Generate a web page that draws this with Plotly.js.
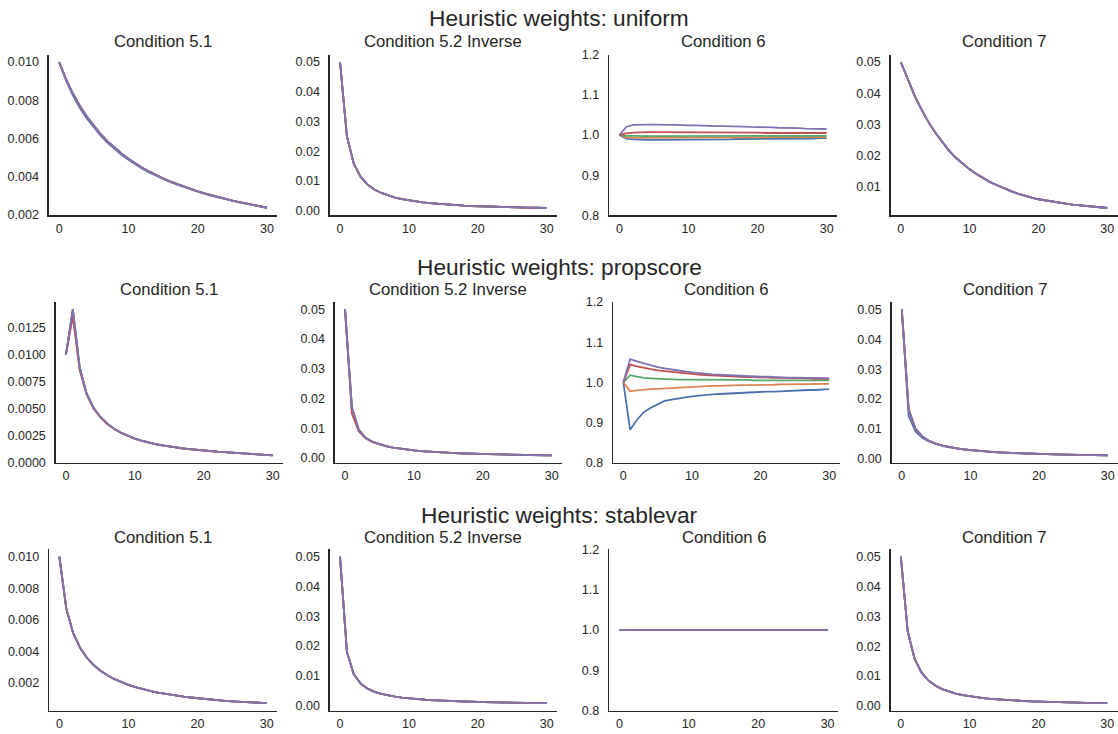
<!DOCTYPE html>
<html>
<head>
<meta charset="utf-8">
<script src="https://cdn.plot.ly/plotly-3.0.1.min.js"></script>
<style>html,body{margin:0;padding:0;background:#fff;}#chart{width:1118px;height:734px;}</style>
</head>
<body>
<div id="chart"></div>
<script>
// ---------- data ----------
const t = [0,1,2,3,4,5,6,7,8,9,10,11,12,13,14,15,16,17,18,19,20,21,22,23,24,25,26,27,28,29,30];
const seriesNames = ["series 1","series 2","series 3","series 4","series 5"];
const seriesColors = ["#4C72B0","#DD8452","#55A868","#C44E52","#8172B3"];
const rowTitles = ["Heuristic weights: uniform","Heuristic weights: propscore","Heuristic weights: stablevar"];
const colTitles = ["Condition 5.1","Condition 5.2 Inverse","Condition 6","Condition 7"];
const xTicks = [0,10,20,30];

// uniform
const uni_c51 = [0.01000,0.00910,0.00835,0.00770,0.00715,0.00666,0.00623,0.00585,0.00551,0.00521,0.00494,0.00469,0.00447,0.00427,0.00408,0.00391,0.00375,0.00361,0.00347,0.00335,0.00323,0.00312,0.00302,0.00292,0.00283,0.00275,0.00267,0.00260,0.00253,0.00245,0.00238];
const uni_c51_blue = [0.01000,0.00902,0.00824,0.00759,0.00704,0.00656,0.00614,0.00577,0.00544,0.00514,0.00488,0.00464,0.00442,0.00422,0.00404,0.00387,0.00372,0.00358,0.00345,0.00333,0.00321,0.00310,0.00300,0.00291,0.00282,0.00274,0.00266,0.00258,0.00251,0.00244,0.00236];
const uni_c52 = [0.05000,0.02500,0.01580,0.01140,0.00880,0.00715,0.00600,0.00512,0.00444,0.00390,0.00347,0.00311,0.00281,0.00256,0.00235,0.00216,0.00200,0.00186,0.00174,0.00163,0.00153,0.00145,0.00137,0.00130,0.00123,0.00117,0.00112,0.00107,0.00103,0.00099,0.00095];
const uni_c6_blue = [1.000,0.991,0.989,0.988,0.988,0.988,0.988,0.988,0.988,0.988,0.988,0.988,0.989,0.989,0.989,0.989,0.989,0.990,0.990,0.990,0.990,0.990,0.990,0.991,0.991,0.991,0.991,0.991,0.991,0.992,0.992];
const uni_c6_orange = [1.000,0.994,0.993,0.993,0.993,0.993,0.993,0.993,0.993,0.993,0.993,0.994,0.994,0.994,0.994,0.994,0.994,0.994,0.994,0.994,0.994,0.994,0.995,0.995,0.995,0.995,0.995,0.995,0.995,0.995,0.995];
const uni_c6_green = [1.000,0.998,0.998,0.997,0.997,0.997,0.997,0.997,0.997,0.997,0.997,0.997,0.997,0.997,0.997,0.997,0.998,0.998,0.998,0.998,0.998,0.998,0.998,0.998,0.998,0.998,0.998,0.998,0.998,0.998,0.998];
const uni_c6_red = [1.000,1.004,1.006,1.007,1.007,1.007,1.007,1.007,1.007,1.007,1.006,1.006,1.006,1.006,1.006,1.006,1.006,1.006,1.006,1.006,1.006,1.005,1.005,1.005,1.005,1.005,1.005,1.005,1.005,1.005,1.005];
const uni_c6_purple = [1.000,1.020,1.025,1.026,1.026,1.026,1.025,1.025,1.025,1.024,1.024,1.024,1.023,1.023,1.022,1.022,1.022,1.021,1.021,1.020,1.020,1.019,1.019,1.018,1.018,1.017,1.017,1.016,1.016,1.015,1.015];
const uni_c7 = [0.0500,0.0443,0.0392,0.0348,0.0308,0.0274,0.0243,0.0216,0.0193,0.0173,0.0156,0.0141,0.0127,0.0115,0.0105,0.0095,0.0086,0.0078,0.0071,0.0065,0.0060,0.0056,0.0052,0.0049,0.0046,0.0043,0.0041,0.0038,0.0036,0.0034,0.0032];

// propscore
const prop_c51 = [0.01000,0.01420,0.00880,0.00640,0.00508,0.00422,0.00360,0.00313,0.00276,0.00246,0.00222,0.00202,0.00185,0.00171,0.00159,0.00148,0.00139,0.00131,0.00124,0.00117,0.00111,0.00106,0.00101,0.00097,0.00093,0.00089,0.00086,0.00082,0.00078,0.00073,0.00067];
const prop_c51_low = [0.01000,0.01360,0.00860,0.00630,0.00502,0.00418,0.00357,0.00311,0.00274,0.00245,0.00221,0.00201,0.00184,0.00170,0.00158,0.00147,0.00138,0.00130,0.00123,0.00116,0.00110,0.00105,0.00100,0.00096,0.00092,0.00088,0.00085,0.00081,0.00077,0.00072,0.00066];
const prop_c52 = [0.05000,0.01700,0.00950,0.00680,0.00545,0.00460,0.00398,0.00350,0.00312,0.00281,0.00255,0.00233,0.00214,0.00198,0.00184,0.00172,0.00161,0.00152,0.00144,0.00136,0.00130,0.00124,0.00118,0.00113,0.00109,0.00105,0.00101,0.00097,0.00094,0.00091,0.00088];
const prop_c52_low = [0.05000,0.01500,0.00900,0.00660,0.00535,0.00453,0.00393,0.00346,0.00309,0.00279,0.00253,0.00231,0.00213,0.00197,0.00183,0.00171,0.00160,0.00151,0.00143,0.00135,0.00129,0.00123,0.00117,0.00112,0.00108,0.00104,0.00100,0.00096,0.00093,0.00090,0.00087];
const prop_c6_blue = [1.000,0.882,0.907,0.926,0.937,0.946,0.954,0.957,0.960,0.963,0.965,0.967,0.969,0.970,0.971,0.972,0.973,0.974,0.975,0.975,0.976,0.977,0.977,0.978,0.979,0.979,0.980,0.981,0.981,0.982,0.983];
const prop_c6_orange = [1.000,0.978,0.980,0.982,0.983,0.984,0.985,0.986,0.987,0.988,0.989,0.990,0.990,0.991,0.991,0.992,0.992,0.993,0.993,0.993,0.994,0.994,0.994,0.995,0.995,0.995,0.995,0.995,0.996,0.996,0.996];
const prop_c6_green = [1.000,1.018,1.014,1.011,1.010,1.009,1.008,1.008,1.007,1.007,1.007,1.007,1.006,1.006,1.006,1.006,1.006,1.006,1.006,1.005,1.005,1.005,1.005,1.005,1.005,1.005,1.005,1.005,1.005,1.005,1.005];
const prop_c6_red = [1.000,1.044,1.040,1.036,1.033,1.030,1.028,1.026,1.024,1.022,1.021,1.019,1.018,1.017,1.016,1.015,1.015,1.014,1.013,1.013,1.012,1.012,1.011,1.011,1.011,1.010,1.010,1.010,1.009,1.009,1.009];
const prop_c6_purple = [1.000,1.058,1.052,1.047,1.042,1.038,1.035,1.032,1.029,1.027,1.025,1.023,1.022,1.020,1.019,1.018,1.017,1.016,1.015,1.015,1.014,1.014,1.013,1.013,1.012,1.012,1.011,1.011,1.011,1.010,1.010];
const prop_c7 = [0.05000,0.01650,0.01000,0.00750,0.00600,0.00505,0.00440,0.00390,0.00350,0.00318,0.00292,0.00270,0.00251,0.00235,0.00221,0.00209,0.00198,0.00188,0.00180,0.00172,0.00165,0.00158,0.00152,0.00147,0.00142,0.00137,0.00133,0.00129,0.00125,0.00122,0.00118];
const prop_c7_blue = [0.05000,0.01430,0.00920,0.00700,0.00575,0.00490,0.00430,0.00383,0.00345,0.00314,0.00289,0.00268,0.00249,0.00233,0.00220,0.00208,0.00197,0.00187,0.00179,0.00171,0.00164,0.00157,0.00151,0.00146,0.00141,0.00136,0.00132,0.00128,0.00124,0.00121,0.00117];

// stablevar
const stab_c51 = [0.01000,0.00672,0.00515,0.00422,0.00358,0.00311,0.00275,0.00246,0.00223,0.00203,0.00187,0.00173,0.00160,0.00150,0.00140,0.00132,0.00125,0.00118,0.00112,0.00107,0.00102,0.00098,0.00094,0.00090,0.00086,0.00083,0.00080,0.00078,0.00075,0.00073,0.00071];
const stab_c52 = [0.05000,0.01800,0.01050,0.00740,0.00570,0.00465,0.00393,0.00340,0.00300,0.00268,0.00243,0.00222,0.00204,0.00189,0.00176,0.00164,0.00154,0.00145,0.00137,0.00130,0.00124,0.00118,0.00113,0.00108,0.00104,0.00100,0.00096,0.00093,0.00090,0.00087,0.00084];
const stab_c6 = [1,1,1,1,1,1,1,1,1,1,1,1,1,1,1,1,1,1,1,1,1,1,1,1,1,1,1,1,1,1,1];
const stab_c7 = [0.05000,0.02500,0.01580,0.01120,0.00850,0.00680,0.00562,0.00476,0.00411,0.00360,0.00319,0.00286,0.00258,0.00235,0.00215,0.00198,0.00184,0.00171,0.00160,0.00150,0.00141,0.00133,0.00126,0.00120,0.00114,0.00109,0.00104,0.00100,0.00096,0.00092,0.00089];

// panel contents: [row][col] -> 5 series (blue, orange, green, red, purple)
const panels = [
  [ [uni_c51_blue, uni_c51, uni_c51, uni_c51, uni_c51],
    [uni_c52, uni_c52, uni_c52, uni_c52, uni_c52],
    [uni_c6_blue, uni_c6_orange, uni_c6_green, uni_c6_red, uni_c6_purple],
    [uni_c7, uni_c7, uni_c7, uni_c7, uni_c7] ],
  [ [prop_c51, prop_c51_low, prop_c51, prop_c51_low, prop_c51],
    [prop_c52, prop_c52, prop_c52_low, prop_c52_low, prop_c52],
    [prop_c6_blue, prop_c6_orange, prop_c6_green, prop_c6_red, prop_c6_purple],
    [prop_c7_blue, prop_c7, prop_c7, prop_c7, prop_c7] ],
  [ [stab_c51, stab_c51, stab_c51, stab_c51, stab_c51],
    [stab_c52, stab_c52, stab_c52, stab_c52, stab_c52],
    [stab_c6, stab_c6, stab_c6, stab_c6, stab_c6],
    [stab_c7, stab_c7, stab_c7, stab_c7, stab_c7] ]
];
// y tick step and label format per panel
const yTickStep = [[0.002,0.01,0.1,0.01],[0.0025,0.01,0.1,0.01],[0.002,0.01,0.1,0.01]];
const yTickFmt = [[".3f",".2f",".1f",".2f"],[".4f",".2f",".1f",".2f"],[".3f",".2f",".1f",".2f"]];
const fixedRangeCond6 = [0.8, 1.2];

// ---------- layout geometry (pixels) ----------
const W = 1118, H = 734;
const rowBox = [[54.7,215.3],[302,462.7],[549.3,710.5]];
const colBox = [
  [[48.7,277.4],[329.7,557],[609,837],[890.5,1117.5]],
  [[55.6,283],[334.7,562],[613,839.5],[891.5,1118]],
  [[49,277],[329.7,557],[609,838],[890.5,1117.5]]
];
const titleY = [41.5, 290, 537];
const headerY = [18, 267, 515];

const FONT = "Liberation Sans, Arial, Helvetica, sans-serif";
const TXT = "#262626";

const traces = [];
const layout = {
  width: W, height: H,
  margin: {l:0, r:0, t:0, b:0},
  paper_bgcolor: "#ffffff", plot_bgcolor: "#ffffff",
  showlegend: false,
  font: {family: FONT, color: TXT, size: 12.5},
  annotations: []
};

let k = 0;
for (let r = 0; r < 3; r++) {
  for (let c = 0; c < 4; c++) {
    k++;
    const sfx = k === 1 ? "" : String(k);
    const series = panels[r][c];
    series.forEach((ys, i) => {
      traces.push({
        type: "scatter", mode: "lines", x: t, y: ys,
        name: seriesNames[i],
        xaxis: "x" + sfx, yaxis: "y" + sfx,
        line: {color: seriesColors[i], width: 1.8},
        hoverinfo: "skip"
      });
    });
    let yr;
    if (c === 2) {
      yr = fixedRangeCond6;
    } else {
      let lo = Infinity, hi = -Infinity;
      series.forEach(ys => ys.forEach(v => { if (v < lo) lo = v; if (v > hi) hi = v; }));
      const pad = (hi - lo) * 0.05;
      yr = [lo - pad, hi + pad];
    }
    const [x0, x1] = colBox[r][c];
    const [yt, yb] = rowBox[r];
    const common = {
      showgrid: false, zeroline: false, showline: true,
      linecolor: TXT, linewidth: 1.3, ticks: "",
      tickfont: {family: FONT, color: TXT, size: 12.5}
    };
    layout["xaxis" + sfx] = Object.assign({}, common, {
      domain: [x0 / W, x1 / W], anchor: "y" + sfx,
      range: [-1.5, 31.5], tickmode: "array", tickvals: xTicks,
      ticklabelstandoff: 1
    });
    layout["yaxis" + sfx] = Object.assign({}, common, {
      domain: [1 - yb / H, 1 - yt / H], anchor: "x" + sfx,
      range: yr, tickmode: "linear", tick0: 0, dtick: yTickStep[r][c],
      tickformat: yTickFmt[r][c], ticklabelstandoff: 6
    });
    layout.annotations.push({
      xref: "paper", yref: "paper",
      x: ((x0 + x1) / 2) / W, y: 1 - titleY[r] / H,
      xanchor: "center", yanchor: "middle",
      text: colTitles[c], showarrow: false,
      font: {family: FONT, color: TXT, size: 16.7}
    });
  }
  layout.annotations.push({
    xref: "paper", yref: "paper",
    x: 0.5, y: 1 - headerY[r] / H,
    xanchor: "center", yanchor: "middle",
    text: rowTitles[r], showarrow: false,
    font: {family: FONT, color: TXT, size: 22.7}
  });
}

Plotly.newPlot("chart", traces, layout, {staticPlot: true, displayModeBar: false});
</script>
</body>
</html>
